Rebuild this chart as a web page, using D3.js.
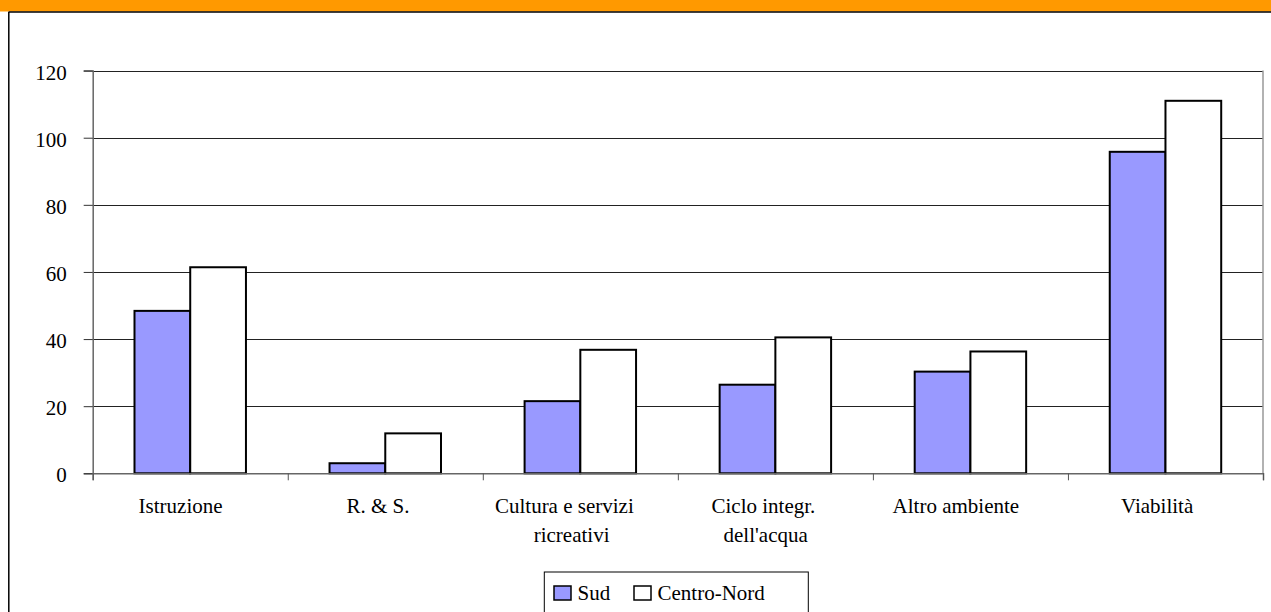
<!DOCTYPE html>
<html>
<head>
<meta charset="utf-8">
<script src="https://cdn.jsdelivr.net/npm/d3@7"></script>
<style>
  body { margin: 0; background: #fff; }
  svg { display: block; font-family: "Liberation Serif", "Times New Roman", serif; }
</style>
</head>
<body>
<svg id="svg" width="1271" height="612"></svg>
<script>
// data
var categories = ["Istruzione", "R. & S.", "Cultura e servizi\nricreativi", "Ciclo integr.\ndell'acqua", "Altro ambiente", "Viabilità"];
var series = ["Sud", "Centro-Nord"];
var sud = [48.4, 3.0, 21.5, 26.4, 30.3, 95.8];
var centroNord = [61.4, 11.9, 36.8, 40.5, 36.3, 111.0];
var yTicks = [0, 20, 40, 60, 80, 100, 120];
var colors = ["#9999ff", "#ffffff"];

var rows = categories.map(function(c, i) {
    return { cat: c, values: [sud[i], centroNord[i]] };
});

var svg = d3.select("#svg");
var plotLeft = 92.7, plotRight = 1263, plotTop = 70.6, plotBottom = 473.3;

// frame
svg.append("rect").attr("x", 0).attr("y", 0).attr("width", 1271).attr("height", 11.5).attr("fill", "#ff9900");
svg.append("line").attr("x1", 8.5).attr("x2", 1271).attr("y1", 12).attr("y2", 12).attr("stroke", "#000").attr("stroke-width", 1.5);
svg.append("line").attr("x1", 8.8).attr("x2", 8.8).attr("y1", 12).attr("y2", 612).attr("stroke", "#000").attr("stroke-width", 1.5);

var x = d3.scaleBand().domain(categories).range([plotLeft, plotRight]);
var xs = d3.scaleBand().domain(series).range([0, x.bandwidth()]).paddingOuter(0.75).paddingInner(0);
var y = d3.scaleLinear().domain([0, 120]).range([plotBottom, plotTop]);

//////// GRID //////////
svg.append("g").selectAll("line").data(yTicks.slice(1)).enter().append("line")
    .attr("x1", plotLeft).attr("x2", plotRight)
    .attr("y1", function(d) { return Math.round(y(d)) + 0.5; })
    .attr("y2", function(d) { return Math.round(y(d)) + 0.5; })
    .attr("stroke", "#222").attr("stroke-width", 1);

// right plot border
svg.append("line").attr("x1", plotRight).attr("x2", plotRight).attr("y1", plotTop).attr("y2", plotBottom)
    .attr("stroke", "#999").attr("stroke-width", 1.5);

//////// BARS //////////
var groups = svg.append("g").selectAll("g").data(rows).enter().append("g")
    .attr("transform", function(d) { return "translate(" + x(d.cat) + ",0)"; });
groups.selectAll("rect").data(function(d) { return d.values.map(function(v, i) { return { s: series[i], v: v, i: i }; }); })
    .enter().append("rect")
    .attr("x", function(d) { return xs(d.s); })
    .attr("width", xs.bandwidth())
    .attr("y", function(d) { return y(d.v); })
    .attr("height", function(d) { return plotBottom - y(d.v); })
    .attr("fill", function(d) { return colors[d.i]; })
    .attr("stroke", "#000").attr("stroke-width", 2);

//////// AXES //////////
var yAxis = svg.append("g").attr("transform", "translate(" + plotLeft + ",0)")
    .call(d3.axisLeft(y).tickValues(yTicks).tickSize(9).tickPadding(17));
yAxis.select(".domain").attr("stroke", "#666").attr("stroke-width", 1.5);
yAxis.selectAll(".tick line").attr("stroke", "#333");
yAxis.selectAll(".tick text").attr("font-family", "Liberation Serif, Times New Roman, serif")
    .attr("font-size", 21).attr("fill", "#000").attr("dy", "0.4em");

var xAxis = svg.append("g").attr("transform", "translate(0," + plotBottom + ")")
    .call(d3.axisBottom(d3.scaleLinear().domain([0, categories.length]).range([plotLeft, plotRight]))
        .ticks(categories.length).tickSize(7).tickFormat(""));
xAxis.select(".domain").attr("stroke", "#666").attr("stroke-width", 1.5);
xAxis.selectAll(".tick line").attr("stroke", "#555");

///////// CATEGORY LABELS ////////////
var labels = svg.append("g").selectAll("g").data(categories).enter().append("g");
labels.each(function(c) {
    var g = d3.select(this);
    var cx = x(c) + x.bandwidth() / 2;
    c.split("\n").forEach(function(line, k) {
        var t = g.append("text").attr("font-size", 21).attr("y", plotBottom + 40 + k * 28.5).text(line);
        var w = t.node().getComputedTextLength();
        t.attr("x", cx - 1.23 * w / 2);
    });
});

///////// LEGEND ////////////
var legend = svg.append("g");
legend.append("rect").attr("x", 544.3).attr("y", 572).attr("width", 264).attr("height", 60)
    .attr("fill", "#fff").attr("stroke", "#000").attr("stroke-width", 1);
var lx = d3.scaleOrdinal().domain(series).range([554, 634]);
var items = legend.selectAll("g.item").data(series).enter().append("g").attr("class", "item");
items.append("rect")
    .attr("x", function(d) { return lx(d); }).attr("y", 586)
    .attr("width", 17).attr("height", 14)
    .attr("fill", function(d, i) { return colors[i]; })
    .attr("stroke", "#000").attr("stroke-width", 1.5);
items.append("text")
    .attr("x", function(d) { return lx(d) + 23.5; }).attr("y", 599.5)
    .attr("font-size", 21).text(function(d) { return d; });
</script>
</body>
</html>
